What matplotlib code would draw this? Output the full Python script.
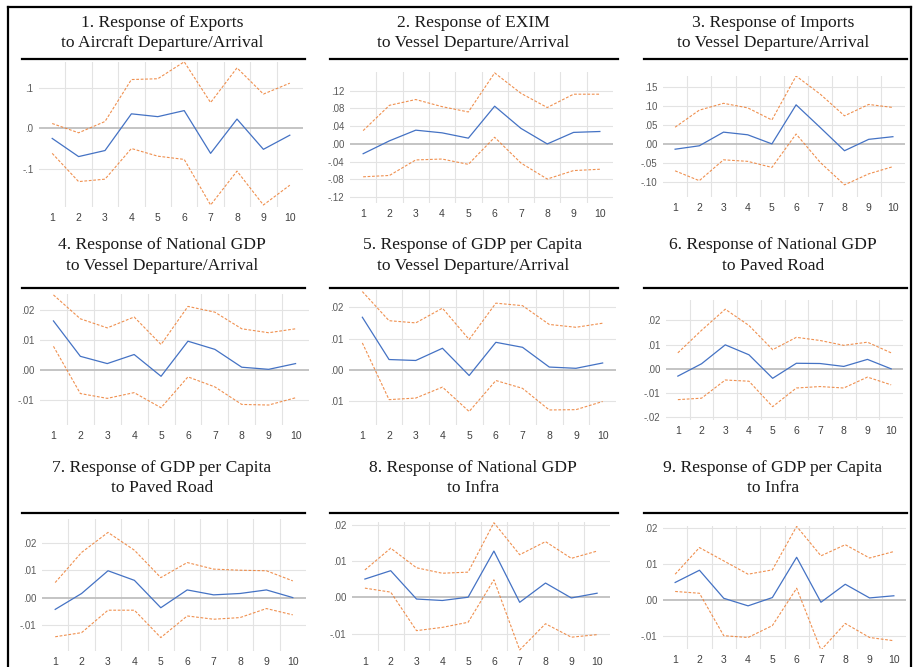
import numpy as np
import matplotlib
matplotlib.use("Agg")
import matplotlib.pyplot as plt
from matplotlib.lines import Line2D

# periods after the shock
periods = [1, 2, 3, 4, 5, 6, 7, 8, 9, 10]

# 1. exports <- aircraft
p1_resp = [-0.025, -0.070, -0.055, 0.036, 0.029, 0.044, -0.062, 0.023, -0.052, -0.017]
p1_up = [0.012, -0.011, 0.017, 0.121, 0.123, 0.165, 0.064, 0.150, 0.085, 0.112]
p1_lo = [-0.062, -0.132, -0.126, -0.050, -0.069, -0.077, -0.190, -0.106, -0.190, -0.141]

# 2. EXIM <- vessel
p2_resp = [-0.022, 0.007, 0.031, 0.025, 0.013, 0.085, 0.035, 0.000, 0.026, 0.028]
p2_up = [0.030, 0.087, 0.100, 0.084, 0.072, 0.160, 0.114, 0.082, 0.112, 0.112]
p2_lo = [-0.074, -0.071, -0.036, -0.034, -0.046, 0.015, -0.043, -0.079, -0.060, -0.057]

# 3. imports <- vessel
p3_resp = [-0.013, -0.004, 0.032, 0.025, 0.001, 0.104, 0.044, -0.017, 0.013, 0.020]
p3_up = [0.045, 0.090, 0.108, 0.096, 0.064, 0.180, 0.132, 0.075, 0.105, 0.097]
p3_lo = [-0.070, -0.096, -0.041, -0.045, -0.061, 0.027, -0.048, -0.107, -0.078, -0.059]

# 4. national GDP <- vessel
p4_resp = [0.0163, 0.0046, 0.0022, 0.0052, -0.0020, 0.0096, 0.0069, 0.0010, 0.0003, 0.0022]
p4_up = [0.0249, 0.0170, 0.0140, 0.0176, 0.0085, 0.0211, 0.0192, 0.0137, 0.0124, 0.0137]
p4_lo = [0.0079, -0.0077, -0.0093, -0.0074, -0.0124, -0.0022, -0.0055, -0.0113, -0.0115, -0.0091]

# 5. GDP per capita <- vessel
p5_resp = [0.0168, 0.0033, 0.0030, 0.0069, -0.0018, 0.0088, 0.0072, 0.0009, 0.0005, 0.0022]
p5_up = [0.0250, 0.0157, 0.0150, 0.0197, 0.0097, 0.0213, 0.0205, 0.0145, 0.0136, 0.0149]
p5_lo = [0.0086, -0.0095, -0.0090, -0.0055, -0.0133, -0.0034, -0.0059, -0.0128, -0.0127, -0.0101]

# 6. national GDP <- paved road
p6_resp = [-0.0030, 0.0021, 0.0099, 0.0058, -0.0039, 0.0023, 0.0022, 0.0010, 0.0039, 0.0000]
p6_up = [0.0066, 0.0159, 0.0246, 0.0179, 0.0079, 0.0130, 0.0117, 0.0097, 0.0110, 0.0066]
p6_lo = [-0.0127, -0.0121, -0.0046, -0.0051, -0.0156, -0.0079, -0.0073, -0.0079, -0.0034, -0.0066]

# 7. GDP per capita <- paved road
p7_resp = [-0.0043, 0.0015, 0.0098, 0.0063, -0.0037, 0.0028, 0.0010, 0.0015, 0.0028, 0.0000]
p7_up = [0.0055, 0.0165, 0.0238, 0.0173, 0.0073, 0.0128, 0.0104, 0.0100, 0.0098, 0.0061]
p7_lo = [-0.0143, -0.0128, -0.0046, -0.0046, -0.0146, -0.0067, -0.0079, -0.0073, -0.0040, -0.0063]

# 8. national GDP <- infra
p8_resp = [0.0050, 0.0073, -0.0005, -0.0009, 0.0000, 0.0127, -0.0014, 0.0039, -0.0002, 0.0011]
p8_up = [0.0075, 0.0135, 0.0081, 0.0066, 0.0069, 0.0205, 0.0117, 0.0153, 0.0107, 0.0127]
p8_lo = [0.0025, 0.0014, -0.0092, -0.0083, -0.0069, 0.0048, -0.0145, -0.0073, -0.0110, -0.0103]

# 9. GDP per capita <- infra
p9_resp = [0.0049, 0.0083, 0.0005, -0.0016, 0.0007, 0.0119, -0.0006, 0.0044, 0.0006, 0.0012]
p9_up = [0.0072, 0.0146, 0.0109, 0.0072, 0.0084, 0.0205, 0.0123, 0.0154, 0.0117, 0.0135]
p9_lo = [0.0024, 0.0019, -0.0099, -0.0104, -0.0071, 0.0033, -0.0139, -0.0065, -0.0104, -0.0113]

titles = [
    ("1. Response of Exports", "to Aircraft Departure/Arrival"),
    ("2. Response of EXIM", "to Vessel Departure/Arrival"),
    ("3. Response of Imports", "to Vessel Departure/Arrival"),
    ("4. Response of National GDP", "to Vessel Departure/Arrival"),
    ("5. Response of GDP per Capita", "to Vessel Departure/Arrival"),
    ("6. Response of National GDP", "to Paved Road"),
    ("7. Response of GDP per Capita", "to Paved Road"),
    ("8. Response of National GDP", "to Infra"),
    ("9. Response of GDP per Capita", "to Infra"),
]

ticks_a = [-0.1, 0.0, 0.1]
labels_a = ["-.1", ".0", ".1"]
ticks_b = [-0.12, -0.08, -0.04, 0.0, 0.04, 0.08, 0.12]
labels_b = ["-.12", "-.08", "-.04", ".00", ".04", ".08", ".12"]
ticks_c = [-0.10, -0.05, 0.0, 0.05, 0.10, 0.15]
labels_c = ["-.10", "-.05", ".00", ".05", ".10", ".15"]
ticks_d = [-0.01, 0.0, 0.01, 0.02]
labels_d = ["-.01", ".00", ".01", ".02"]
labels_d2 = [".01", ".00", ".01", ".02"]
ticks_e = [-0.02, -0.01, 0.0, 0.01, 0.02]
labels_e = ["-.02", "-.01", ".00", ".01", ".02"]

series = [
    (p1_resp, p1_up, p1_lo), (p2_resp, p2_up, p2_lo), (p3_resp, p3_up, p3_lo),
    (p4_resp, p4_up, p4_lo), (p5_resp, p5_up, p5_lo), (p6_resp, p6_up, p6_lo),
    (p7_resp, p7_up, p7_lo), (p8_resp, p8_up, p8_lo), (p9_resp, p9_up, p9_lo),
]
yticks = [
    (ticks_a, labels_a), (ticks_b, labels_b), (ticks_c, labels_c),
    (ticks_d, labels_d), (ticks_d, labels_d2), (ticks_e, labels_e),
    (ticks_d, labels_d), (ticks_d, labels_d), (ticks_d, labels_d),
]

# layout in pixels: plot left, right, top, bottom, ylim
W, H = 914, 667
boxes = [
    (39, 303, 62, 207, (-0.195, 0.1645)),
    (350, 613, 72, 203, (-0.133, 0.162)),
    (663, 905, 76, 197, (-0.139, 0.180)),
    (40, 309, 294, 425, (-0.0181, 0.0252)),
    (349, 616, 290, 425, (-0.0176, 0.0255)),
    (666, 903, 300, 420, (-0.0211, 0.0284)),
    (42, 306, 519, 651, (-0.0195, 0.0287)),
    (352, 610, 522, 651, (-0.0148, 0.0207)),
    (663, 906, 526, 649, (-0.0136, 0.0206)),
]
title_x = [162, 473, 773]
title_y = [(23, 43), (245, 266), (468, 488)]
rule_y = [59, 288, 513]
rule_x = [(22, 305), (330, 618), (644, 907)]

blue = "#4472C4"
orange = "#ED7D31"

fig = plt.figure(figsize=(W / 100, H / 100), dpi=100)
fig.patch.set_facecolor("white")

for i in range(9):
    row, col = divmod(i, 3)
    l, r, t, b, ylim = boxes[i]
    ax = fig.add_axes([l / W, 1 - b / H, (r - l) / W, (b - t) / H])
    resp, up, lo = series[i]
    ax.plot(periods, up, color=orange, lw=0.8, ls=(0, (2.5, 1.5)), alpha=0.85, zorder=3)
    ax.plot(periods, lo, color=orange, lw=0.8, ls=(0, (2.5, 1.5)), alpha=0.85, zorder=3)
    ax.plot(periods, resp, color=blue, lw=0.9, zorder=4)
    ax.set_xlim(0.5, 10.5)
    ax.set_ylim(*ylim)
    tk, lb = yticks[i]
    ax.set_yticks(tk)
    ax.set_yticklabels(lb)
    ax.set_xticks(periods)
    ax.set_xticks(np.arange(1.5, 10, 1.0), minor=True)
    for y in tk:
        if y == 0:
            ax.axhline(0, color="#BFBFBF", lw=1.3, zorder=2)
        else:
            ax.axhline(y, color="#E3E3E3", lw=0.8, zorder=1)
    ax.grid(True, which="minor", axis="x", color="#E3E3E3", lw=0.8, zorder=1)
    for s in ax.spines.values():
        s.set_visible(False)
    ax.tick_params(which="both", length=0)
    ax.tick_params(axis="y", pad=4, labelsize=7, labelcolor="#595959")
    ax.tick_params(axis="x", pad=4, labelsize=7.5, labelcolor="#404040")
    for lab in ax.get_xticklabels() + ax.get_yticklabels():
        lab.set_fontfamily("Liberation Sans")

    # title and rule above each chart
    l1, l2 = titles[i]
    fig.text(title_x[col] / W, 1 - title_y[row][0] / H, l1, ha="center", va="center",
             fontsize=12.6, family="Liberation Serif", color="#1a1a1a")
    fig.text(title_x[col] / W, 1 - title_y[row][1] / H, l2, ha="center", va="center",
             fontsize=12.6, family="Liberation Serif", color="#1a1a1a")
    x0, x1 = rule_x[col]
    fig.add_artist(Line2D([x0 / W, x1 / W], [1 - rule_y[row] / H] * 2, color="black", lw=1.6))

# outer frame (bottom is cut off in the original)
fig.add_artist(Line2D([8 / W, 911 / W], [1 - 7 / H] * 2, color="black", lw=1.6))
fig.add_artist(Line2D([8 / W, 8 / W], [0, 1 - 7 / H], color="black", lw=1.6))
fig.add_artist(Line2D([911 / W, 911 / W], [0, 1 - 7 / H], color="black", lw=1.6))

fig.savefig("out.png", dpi=100)
